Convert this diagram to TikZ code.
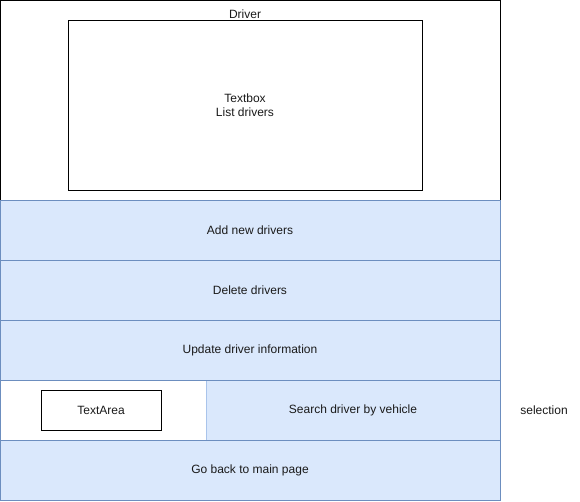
\documentclass[tikz,border=0pt]{standalone}
\usepackage{fontspec}
\setmainfont{Liberation Sans}
\definecolor{bfill}{HTML}{DAE8FC}
\definecolor{bline}{HTML}{6C8EBF}
\definecolor{bline2}{HTML}{A9C4EB}
\definecolor{txt}{HTML}{1A1A1A}
\begin{document}
\begin{tikzpicture}[x=0.75pt,y=-0.75pt,
  lbl/.style={font=\fontsize{9}{10.5}\selectfont,text=txt,align=center,inner sep=0pt},
  btn/.style={draw=bline,fill=bfill,line width=0.75pt},
  plain/.style={draw=black,line width=0.75pt}]
\useasboundingbox (0,0) rectangle (580,501);
\fill[white] (0,0) rectangle (580,501);
\draw[plain] (0.5,0.5) rectangle (500,200);
\draw[plain] (68,20) rectangle (422,190);
\node[lbl] (drv) at (245,14) {Driver};
\node[lbl] (tb) at (245,105) {Textbox\\List drivers};
\draw[btn] (0.5,200) rectangle (500,260);
\node[lbl] (add) at (250,230) {Add new drivers};
\draw[btn] (0.5,260) rectangle (500,320);
\node[lbl] (del) at (250,290) {Delete drivers};
\draw[btn] (0.5,320) rectangle (500,380);
\node[lbl] (upd) at (250,350) {Update driver information};
\draw[draw=bline,fill=white,line width=0.75pt] (0.5,380) rectangle (206,440);
\draw[plain] (41,390) rectangle (161,430);
\node[lbl] (ta) at (101,410) {TextArea};
\fill[bfill] (206,380) rectangle (500,440);
\draw[bline2,line width=0.75pt] (206,380) -- (206,440);
\draw[bline,line width=0.75pt] (206,380) -- (500,380) -- (500,440) -- (206,440);
\node[lbl] (srch) at (353,410) {Search driver by vehicle};
\node[lbl] (sel) at (544,410) {selection};
\draw[btn] (0.5,440) rectangle (500,500);
\node[lbl] (back) at (250,470) {Go back to main page};
\end{tikzpicture}
\end{document}
